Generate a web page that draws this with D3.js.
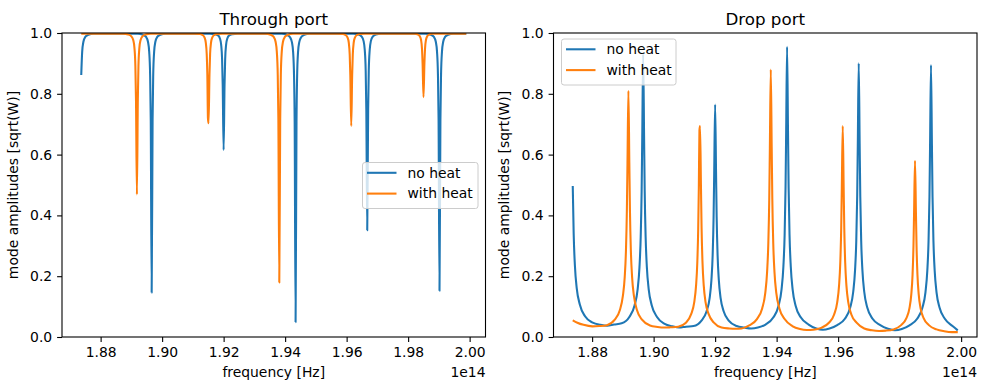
<!DOCTYPE html>
<html>
<head>
<meta charset="utf-8">
<script src="https://cdn.jsdelivr.net/npm/d3@7"></script>
<style>
  html, body { margin: 0; padding: 0; background: #fff; }
  svg { display: block; font-family: "DejaVu Sans", sans-serif; }
</style>
</head>
<body>
<svg id="chart" width="987" height="390"></svg>
<script>
// ---------------- DATA (frequency in units of 1e14 Hz, amplitude in sqrt(W)) ----------------
const xTicks = [1.88, 1.90, 1.92, 1.94, 1.96, 1.98, 2.00];
const yTicks = [0.0, 0.2, 0.4, 0.6, 0.8, 1.0];
const seriesNames = ["no heat", "with heat"];
const panelTitles = ["Through port", "Drop port"];

const throughNoHeat = [
  [1.8737,0.862],[1.8740,0.938],[1.8744,0.971],[1.8750,0.987],[1.8760,0.994],[1.8777,0.998],
  [1.8921,0.998],[1.8938,0.994],[1.8948,0.987],[1.8954,0.971],[1.8958,0.938],[1.8961,0.861],[1.8963,0.715],
  [1.8966,0.146],
  [1.8969,0.715],[1.8971,0.861],[1.8974,0.938],[1.8978,0.971],[1.8984,0.987],[1.8994,0.994],[1.9011,0.998],
  [1.9155,0.998],[1.9172,0.996],[1.9182,0.992],[1.9188,0.982],[1.9192,0.961],[1.9195,0.914],[1.9197,0.830],
  [1.9200,0.615],
  [1.9203,0.830],[1.9205,0.914],[1.9208,0.961],[1.9212,0.982],[1.9218,0.992],[1.9228,0.996],[1.9245,0.998],
  [1.9389,0.998],[1.9406,0.994],[1.9416,0.986],[1.9422,0.970],[1.9426,0.937],[1.9429,0.858],[1.9431,0.708],
  [1.9434,0.049],
  [1.9437,0.708],[1.9439,0.858],[1.9442,0.937],[1.9446,0.970],[1.9452,0.986],[1.9462,0.994],[1.9479,0.998],
  [1.9622,0.998],[1.9639,0.995],[1.9649,0.988],[1.9655,0.974],[1.9659,0.944],[1.9662,0.876],[1.9664,0.749],
  [1.9667,0.351],
  [1.9670,0.749],[1.9672,0.876],[1.9675,0.944],[1.9679,0.974],[1.9685,0.988],[1.9695,0.995],[1.9712,0.998],
  [1.9857,0.998],[1.9874,0.994],[1.9884,0.987],[1.9890,0.971],[1.9894,0.938],[1.9897,0.861],[1.9899,0.715],
  [1.9902,0.152],
  [1.9905,0.715],[1.9907,0.861],[1.9910,0.938],[1.9914,0.971],[1.9920,0.987],[1.9930,0.994],[1.9947,0.998],
  [1.9989,0.998]
];

const throughWithHeat = [
  [1.8737,0.998],
  [1.8873,0.998],[1.8890,0.995],[1.8900,0.989],[1.8906,0.977],[1.8910,0.951],[1.8913,0.891],[1.8915,0.781],
  [1.8918,0.469],
  [1.8921,0.781],[1.8923,0.891],[1.8926,0.951],[1.8930,0.977],[1.8936,0.989],[1.8946,0.995],[1.8963,0.998],
  [1.9105,0.998],[1.9122,0.997],[1.9132,0.993],[1.9138,0.985],[1.9142,0.968],[1.9145,0.931],[1.9147,0.864],
  [1.9149,0.720],[1.9151,0.703],
  [1.9154,0.864],[1.9156,0.931],[1.9159,0.968],[1.9163,0.985],[1.9169,0.993],[1.9179,0.997],[1.9196,0.998],
  [1.9336,0.998],[1.9353,0.994],[1.9363,0.987],[1.9369,0.971],[1.9373,0.938],[1.9376,0.862],[1.9378,0.718],
  [1.9381,0.179],
  [1.9384,0.718],[1.9386,0.862],[1.9389,0.938],[1.9393,0.971],[1.9399,0.987],[1.9409,0.994],[1.9426,0.998],
  [1.9570,0.998],[1.9587,0.997],[1.9597,0.993],[1.9603,0.985],[1.9607,0.968],[1.9610,0.929],[1.9612,0.861],
  [1.9615,0.694],
  [1.9618,0.861],[1.9620,0.929],[1.9623,0.968],[1.9627,0.985],[1.9633,0.993],[1.9643,0.997],[1.9660,0.998],
  [1.9805,0.998],[1.9822,0.998],[1.9832,0.995],[1.9838,0.989],[1.9842,0.977],[1.9845,0.949],[1.9847,0.901],
  [1.9850,0.789],
  [1.9853,0.901],[1.9855,0.949],[1.9858,0.977],[1.9862,0.989],[1.9868,0.995],[1.9878,0.998],
  [1.9989,0.998]
];

const dropNoHeat = [
  [1.8737,0.497],[1.8740,0.340],[1.8744,0.235],[1.8750,0.160],[1.8760,0.107],[1.8777,0.068],[1.8802,0.047],[1.8827,0.040],
  [1.8849,0.037],
  [1.8871,0.041],[1.8896,0.045],[1.8921,0.066],[1.8938,0.104],[1.8948,0.157],[1.8954,0.230],[1.8958,0.330],[1.8961,0.479],[1.8963,0.658],
  [1.8966,0.930],
  [1.8969,0.658],[1.8971,0.479],[1.8974,0.330],[1.8978,0.230],[1.8984,0.157],[1.8994,0.104],[1.9011,0.066],[1.9036,0.043],[1.9061,0.035],
  [1.9083,0.031],
  [1.9105,0.034],[1.9130,0.036],[1.9155,0.053],[1.9172,0.084],[1.9182,0.127],[1.9188,0.188],[1.9192,0.270],[1.9195,0.394],[1.9197,0.541],
  [1.9200,0.765],
  [1.9203,0.541],[1.9205,0.394],[1.9208,0.270],[1.9212,0.188],[1.9218,0.127],[1.9228,0.084],[1.9245,0.053],[1.9270,0.036],[1.9295,0.031],
  [1.9317,0.028],
  [1.9339,0.031],[1.9364,0.041],[1.9389,0.064],[1.9406,0.102],[1.9416,0.157],[1.9422,0.232],[1.9426,0.335],[1.9429,0.492],[1.9431,0.675],
  [1.9434,0.955],
  [1.9437,0.675],[1.9439,0.492],[1.9442,0.335],[1.9446,0.232],[1.9452,0.157],[1.9462,0.102],[1.9479,0.064],[1.9504,0.041],[1.9529,0.028],
  [1.9550,0.024],
  [1.9572,0.028],[1.9597,0.039],[1.9622,0.060],[1.9639,0.096],[1.9649,0.148],[1.9655,0.219],[1.9659,0.316],[1.9662,0.464],[1.9664,0.636],
  [1.9667,0.900],
  [1.9670,0.636],[1.9672,0.464],[1.9675,0.316],[1.9679,0.219],[1.9685,0.148],[1.9695,0.096],[1.9712,0.060],[1.9737,0.039],[1.9762,0.027],
  [1.9785,0.022],
  [1.9807,0.026],[1.9832,0.038],[1.9857,0.060],[1.9874,0.096],[1.9884,0.147],[1.9890,0.218],[1.9894,0.314],[1.9897,0.461],[1.9899,0.633],
  [1.9902,0.895],
  [1.9905,0.633],[1.9907,0.461],[1.9910,0.314],[1.9914,0.218],[1.9920,0.147],[1.9930,0.096],[1.9947,0.060],[1.9972,0.036],
  [1.9989,0.022]
];

const dropWithHeat = [
  [1.8737,0.055],[1.8752,0.047],[1.8772,0.040],
  [1.8801,0.035],
  [1.8823,0.036],[1.8848,0.039],[1.8873,0.056],[1.8890,0.088],[1.8900,0.135],[1.8906,0.197],[1.8910,0.284],[1.8913,0.417],[1.8915,0.573],
  [1.8918,0.810],
  [1.8921,0.573],[1.8923,0.417],[1.8926,0.284],[1.8930,0.197],[1.8936,0.135],[1.8946,0.088],[1.8963,0.056],[1.8988,0.038],[1.9013,0.033],
  [1.9034,0.031],
  [1.9055,0.032],[1.9080,0.034],[1.9105,0.047],[1.9122,0.075],[1.9132,0.114],[1.9138,0.169],[1.9142,0.244],[1.9145,0.357],[1.9147,0.491],
  [1.9149,0.680],[1.9151,0.694],
  [1.9154,0.491],[1.9156,0.357],[1.9159,0.244],[1.9163,0.169],[1.9169,0.114],[1.9179,0.075],[1.9196,0.047],[1.9221,0.031],[1.9246,0.028],
  [1.9266,0.027],
  [1.9286,0.028],[1.9311,0.038],[1.9336,0.059],[1.9353,0.094],[1.9363,0.144],[1.9369,0.214],[1.9373,0.309],[1.9376,0.453],[1.9378,0.622],
  [1.9381,0.880],
  [1.9384,0.622],[1.9386,0.453],[1.9389,0.309],[1.9393,0.214],[1.9399,0.144],[1.9409,0.094],[1.9426,0.059],[1.9451,0.036],[1.9476,0.026],
  [1.9498,0.023],
  [1.9520,0.024],[1.9545,0.030],[1.9570,0.047],[1.9587,0.074],[1.9597,0.114],[1.9603,0.169],[1.9607,0.244],[1.9610,0.357],[1.9612,0.491],
  [1.9615,0.694],
  [1.9618,0.491],[1.9620,0.357],[1.9623,0.244],[1.9627,0.169],[1.9633,0.114],[1.9643,0.074],[1.9660,0.047],[1.9685,0.028],[1.9710,0.022],
  [1.9733,0.020],
  [1.9755,0.021],[1.9780,0.025],[1.9805,0.039],[1.9822,0.062],[1.9832,0.095],[1.9838,0.141],[1.9842,0.204],[1.9845,0.299],[1.9847,0.410],
  [1.9850,0.580],
  [1.9853,0.410],[1.9855,0.299],[1.9858,0.204],[1.9862,0.141],[1.9868,0.095],[1.9878,0.062],[1.9895,0.039],[1.9920,0.025],[1.9945,0.019],
  [1.9970,0.016],[1.9989,0.016]
];

// ---------------- DRAWING ----------------
const colors = ["#1f77b4", "#ff7f0e"];
const svg = d3.select("#chart");
const plotTop = 33, plotBottom = 337;
const xDomain = [1.86744, 2.00516];
const fs = 13.9;
const lineW = 2.08;

const panels = [
  { left: 62, right: 485.5, series: [throughNoHeat, throughWithHeat],
    legend: { x: 362.5, y: 162.5, w: 115.5, h: 46 } },
  { left: 553.5, right: 977, series: [dropNoHeat, dropWithHeat],
    legend: { x: 561.5, y: 39, w: 114.5, h: 46 } }
];

panels.forEach((p, i) => {
  const x = d3.scaleLinear().domain(xDomain).range([p.left, p.right]);
  const y = d3.scaleLinear().domain([0, 1]).range([plotBottom, plotTop]);
  const g = svg.append("g");

  const clipId = "clip" + i;
  svg.append("clipPath").attr("id", clipId).append("rect")
    .attr("x", p.left).attr("y", plotTop).attr("width", p.right - p.left).attr("height", plotBottom - plotTop);

  const line = d3.line().curve(d3.curveMonotoneX).x(d => x(d[0])).y(d => y(d[1]));
  p.series.forEach((s, k) => {
    g.append("path").datum(s)
      .attr("d", line)
      .attr("fill", "none")
      .attr("stroke", colors[k])
      .attr("stroke-width", lineW)
      .attr("stroke-linejoin", "round")
      .attr("stroke-linecap", "butt")
      .attr("clip-path", `url(#${clipId})`);
  });

  const xAxis = d3.axisBottom(x).tickValues(xTicks).tickFormat(d3.format(".2f"))
    .tickSizeInner(4.9).tickSizeOuter(0).tickPadding(4.9);
  const yAxis = d3.axisLeft(y).tickValues(yTicks).tickFormat(d3.format(".1f"))
    .tickSizeInner(4.9).tickSizeOuter(0).tickPadding(4.9);
  const gx = g.append("g").attr("transform", `translate(0,${plotBottom})`).call(xAxis);
  const gy = g.append("g").attr("transform", `translate(${p.left},0)`).call(yAxis);
  [gx, gy].forEach(a => {
    a.select(".domain").remove();
    a.selectAll(".tick line").attr("stroke", "#000").attr("stroke-width", 1.1);
    a.selectAll(".tick text").attr("fill", "#000").style("font-size", fs + "px")
      .style("font-family", "DejaVu Sans");
  });

  g.append("rect").attr("x", p.left).attr("y", plotTop)
    .attr("width", p.right - p.left).attr("height", plotBottom - plotTop)
    .attr("fill", "none").attr("stroke", "#000").attr("stroke-width", 1.1);

  g.append("text").attr("x", (p.left + p.right) / 2).attr("y", 24.5)
    .attr("text-anchor", "middle").style("font-size", "16.7px").text(panelTitles[i]);

  g.append("text").attr("x", (p.left + p.right) / 2).attr("y", 377)
    .attr("text-anchor", "middle").style("font-size", fs + "px").text("frequency [Hz]");
  g.append("text").attr("x", p.right).attr("y", 377)
    .attr("text-anchor", "end").style("font-size", fs + "px").text("1e14");

  const ylx = p.left - 44.5, yly = (plotTop + plotBottom) / 2;
  g.append("text").attr("transform", `translate(${ylx},${yly}) rotate(-90)`)
    .attr("text-anchor", "middle").style("font-size", fs + "px")
    .text("mode amplitudes [sqrt(W)]");

  const L = p.legend;
  const lg = g.append("g");
  lg.append("rect").attr("x", L.x).attr("y", L.y).attr("width", L.w).attr("height", L.h)
    .attr("rx", 2.5).attr("ry", 2.5)
    .attr("fill", "#fff").attr("fill-opacity", 0.8)
    .attr("stroke", "#cccccc").attr("stroke-width", 1);
  seriesNames.forEach((name, k) => {
    const ry = L.y + 10.3 + k * 20.8;
    lg.append("line").attr("x1", L.x + 4.5).attr("x2", L.x + 34)
      .attr("y1", ry).attr("y2", ry)
      .attr("stroke", colors[k]).attr("stroke-width", lineW);
    lg.append("text").attr("x", L.x + 45).attr("y", ry + 4.8)
      .style("font-size", fs + "px").text(name);
  });
});
</script>
</body>
</html>
